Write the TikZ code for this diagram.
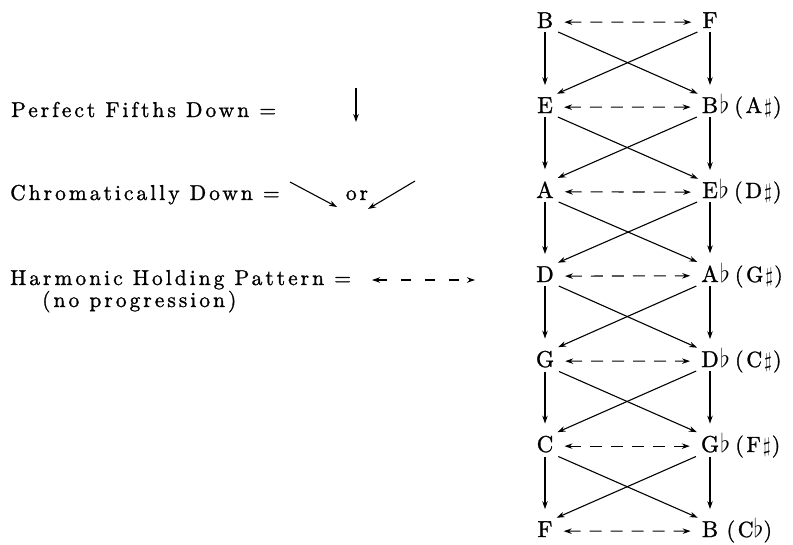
\documentclass[tikz,border=0pt]{standalone}
\usepackage{fontspec}
\setmainfont{lmroman10-regular.otf}
\usepackage{amsmath}
\usetikzlibrary{arrows.meta,positioning}
\newcommand{\bflat}{\scalebox{1.25}{$\flat$}}
\newcommand{\bsharp}{\hspace{2pt}$\sharp$\hspace{1pt}}

\begin{document}
\begin{tikzpicture}[
x=1pt,y=-1pt,
txt/.style={inner sep=0pt,font=\fontsize{21.5}{25}\selectfont\addfontfeatures{LetterSpace=14,FakeBold=1.2}},
note/.style={anchor=base,inner sep=3pt,font=\fontsize{23}{26}\selectfont\addfontfeatures{FakeBold=1.2}},
enh/.style={anchor=base west,inner sep=0pt,font=\fontsize{22}{26}\selectfont\addfontfeatures{LetterSpace=12,FakeBold=1.2}},
arr/.style={-{Stealth[length=8pt,width=5.5pt]},line width=1.1pt},
fifth/.style={arr,shorten <=1pt,shorten >=9pt},
chrom/.style={arr,shorten <=2pt,shorten >=1pt},
hold/.style={{Stealth[length=8pt,width=5.5pt]}-{Stealth[length=8pt,width=5.5pt]},line width=1.1pt,dash pattern=on 12pt off 9pt,shorten <=8pt,shorten >=8pt}]
\useasboundingbox (0,0) rectangle (793,544);

% legend
\node[txt,anchor=base west] (pfd) at (11,117) {Perfect Fifths Down =};
\node[txt,anchor=base west] (chd) at (10,200) {Chromatically Down =};
\node[txt,anchor=base west] (hhp) at (10,285) {Harmonic Holding Pattern =};
\node[txt,anchor=base west] (nop) at (42,307) {(no progression)};
\node[txt,anchor=base] (or) at (357,200) {or};
\coordinate (pfa) at (356,88);
\coordinate (pfb) at (356,122);
\coordinate (cha) at (290,182);
\coordinate (chb) at (337,207);
\coordinate (chc) at (415,181);
\coordinate (chd2) at (368,209);
\coordinate (hha) at (372,280);
\coordinate (hhb) at (475,280);
\draw[arr] (pfa) -- (pfb);
\draw[arr] (cha) -- (chb);
\draw[arr] (chc) -- (chd2);
\draw[{Stealth[length=8pt,width=5.5pt]}-{Stealth[length=8pt,width=5.5pt]},line width=1.1pt,dash pattern=on 10pt off 14pt] (hha) -- (hhb);

% left column
\node[note] (l1) at (545,28) {B};
\node[note] (l2) at (545,113) {E};
\node[note] (l3) at (545,198) {A};
\node[note] (l4) at (545,282) {D};
\node[note] (l5) at (545,367) {G};
\node[note] (l6) at (545,452) {C};
\node[note] (l7) at (545,537) {F};

% right column
\node[note] (r1) at (710,28) {F};
\node[note] (r2) at (710,113) {B};
\node[note] (r3) at (710,198) {E};
\node[note] (r4) at (710,282) {A};
\node[note] (r5) at (710,367) {D};
\node[note] (r6) at (710,452) {G};
\node[note] (r7) at (710,537) {B};
\node[enh] (r2e) at ([xshift=-2pt]r2.base east) {\bflat\hspace{5pt}(A\bsharp)};
\node[enh] (r3e) at ([xshift=-2pt]r3.base east) {\bflat\hspace{5pt}(D\bsharp)};
\node[enh] (r4e) at ([xshift=-2pt]r4.base east) {\bflat\hspace{5pt}(G\bsharp)};
\node[enh] (r5e) at ([xshift=-2pt]r5.base east) {\bflat\hspace{5pt}(C\bsharp)};
\node[enh] (r6e) at ([xshift=-2pt]r6.base east) {\bflat\hspace{5pt}(F\bsharp)};
\node[enh] (r7e) at ([xshift=5pt]r7.base east) {(C\bflat)};

% fifths down
\draw[fifth] (l1) -- (l2);
\draw[fifth] (l2) -- (l3);
\draw[fifth] (l3) -- (l4);
\draw[fifth] (l4) -- (l5);
\draw[fifth] (l5) -- (l6);
\draw[fifth] (l6) -- (l7);
\draw[fifth] (r1) -- (r2);
\draw[fifth] (r2) -- (r3);
\draw[fifth] (r3) -- (r4);
\draw[fifth] (r4) -- (r5);
\draw[fifth] (r5) -- (r6);
\draw[fifth] (r6) -- (r7);

% chromatically down
\draw[chrom] (l1.south east) -- (r2.north west);
\draw[chrom] (r1.south west) -- (l2.north east);
\draw[chrom] (l2.south east) -- (r3.north west);
\draw[chrom] (r2.south west) -- (l3.north east);
\draw[chrom] (l3.south east) -- (r4.north west);
\draw[chrom] (r3.south west) -- (l4.north east);
\draw[chrom] (l4.south east) -- (r5.north west);
\draw[chrom] (r4.south west) -- (l5.north east);
\draw[chrom] (l5.south east) -- (r6.north west);
\draw[chrom] (r5.south west) -- (l6.north east);
\draw[chrom] (l6.south east) -- (r7.north west);
\draw[chrom] (r6.south west) -- (l7.north east);

% holding pattern
\draw[hold] ([yshift=-2pt]l1.east) -- ([yshift=-2pt]r1.west);
\draw[hold] ([yshift=-2pt]l2.east) -- ([yshift=-2pt]r2.west);
\draw[hold] ([yshift=-2pt]l3.east) -- ([yshift=-2pt]r3.west);
\draw[hold] ([yshift=-2pt]l4.east) -- ([yshift=-2pt]r4.west);
\draw[hold] ([yshift=-2pt]l5.east) -- ([yshift=-2pt]r5.west);
\draw[hold] ([yshift=-2pt]l6.east) -- ([yshift=-2pt]r6.west);
\draw[hold] ([yshift=-2pt]l7.east) -- ([yshift=-2pt]r7.west);
\end{tikzpicture}
\end{document}
